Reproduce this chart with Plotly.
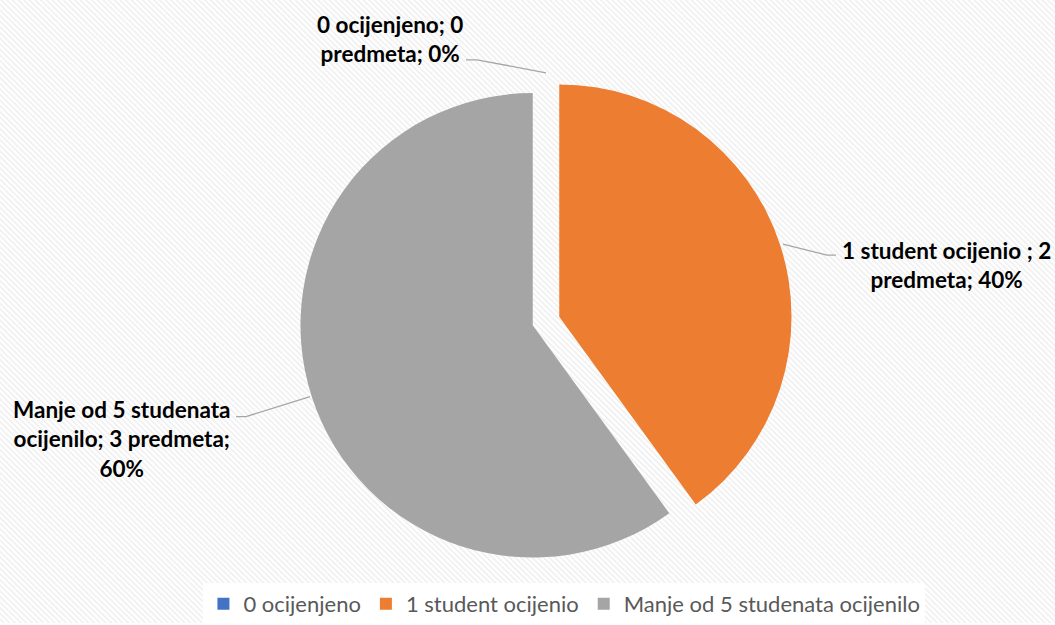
import base64
import plotly.graph_objects as go

W, H = 1055, 625

categories = ["0 ocijenjeno", "1 student ocijenio", "Manje od 5 studenata ocijenilo"]
label_names = ["0 ocijenjeno", "1 student ocijenio ", "Manje od 5 studenata ocijenilo"]
values = [0, 2, 3]
colors = ["#4472C4", "#ED7D31", "#A5A5A5"]
unit = "predmeta"


def px(x, y):
    """pixel position -> paper coords"""
    return x / W, 1 - y / H


total = sum(values)
texts = [f"{n}; {v} {unit}; {round(100 * v / total)}%" for n, v in zip(label_names, values)]

# line breaks the way the reference wraps them
wrapped = [
    texts[0].replace("; 0 ", "; 0<br>"),
    texts[1].replace("; 2 ", "; 2<br>"),
    texts[2].replace("studenata ", "studenata<br>", 1).replace("; 60", ";<br>60"),
]

# faint striped background
svg = f"""<svg xmlns='http://www.w3.org/2000/svg' width='{W}' height='{H}'>
<defs><pattern id='p' width='4' height='4' patternUnits='userSpaceOnUse' patternTransform='rotate(-45)'>
<rect width='4' height='4' fill='#ffffff'/><rect width='1.6' height='4' fill='#efefef'/></pattern></defs>
<rect width='{W}' height='{H}' fill='url(#p)'/></svg>"""
bg = "data:image/svg+xml;base64," + base64.b64encode(svg.encode()).decode()

cx, cy, r, pull = 546, 322, 233, 0.06
half = r * (1 + pull)

fig = go.Figure()
fig.add_trace(go.Pie(
    labels=categories,
    values=values,
    marker=dict(colors=colors, line=dict(width=0)),
    sort=False,
    direction="clockwise",
    rotation=0,
    pull=[pull] * 3,
    textinfo="none",
    hoverinfo="skip",
    domain=dict(x=[(cx - half) / W, (cx + half) / W], y=[1 - (cy + half) / H, 1 - (cy - half) / H]),
))

lbl_font = dict(family="Lato", size=22.5, color="#000000")
label_pos = [(390, 39), (946, 266), (121, 440)]
for t, (lx, ly) in zip(wrapped, label_pos):
    x, y = px(lx, ly)
    fig.add_annotation(x=x, y=y, xref="paper", yref="paper", text=f"<b>{t}</b>",
                       showarrow=False, font=lbl_font, align="center",
                       xanchor="center", yanchor="middle")

leaders = [
    [(466, 60), (477, 60), (546, 73)],
    [(783, 245), (827, 256), (836, 256)],
    [(236, 418), (246, 418), (310, 398)],
]
for pts in leaders:
    path = "M " + " L ".join(f"{px(a, b)[0]},{px(a, b)[1]}" for a, b in pts)
    fig.add_shape(type="path", path=path, xref="paper", yref="paper",
                  line=dict(color="#A6A6A6", width=1.3))

fig.add_layout_image(dict(source=bg, xref="paper", yref="paper", x=0, y=1,
                          sizex=1, sizey=1, sizing="stretch", layer="below"))

fig.update_layout(
    width=W, height=H,
    margin=dict(l=0, r=0, t=0, b=0),
    paper_bgcolor="rgba(0,0,0,0)",
    plot_bgcolor="rgba(0,0,0,0)",
    showlegend=True,
    legend=dict(orientation="h", x=0.535, y=1 - 606 / H, xanchor="center", yanchor="middle",
                bgcolor="#ffffff", font=dict(family="Lato", size=22, color="#595959"),
                traceorder="normal", itemwidth=30),
)

fig.write_html("out.html", config={"displayModeBar": False},
               post_script="document.body.style.margin='0';")
